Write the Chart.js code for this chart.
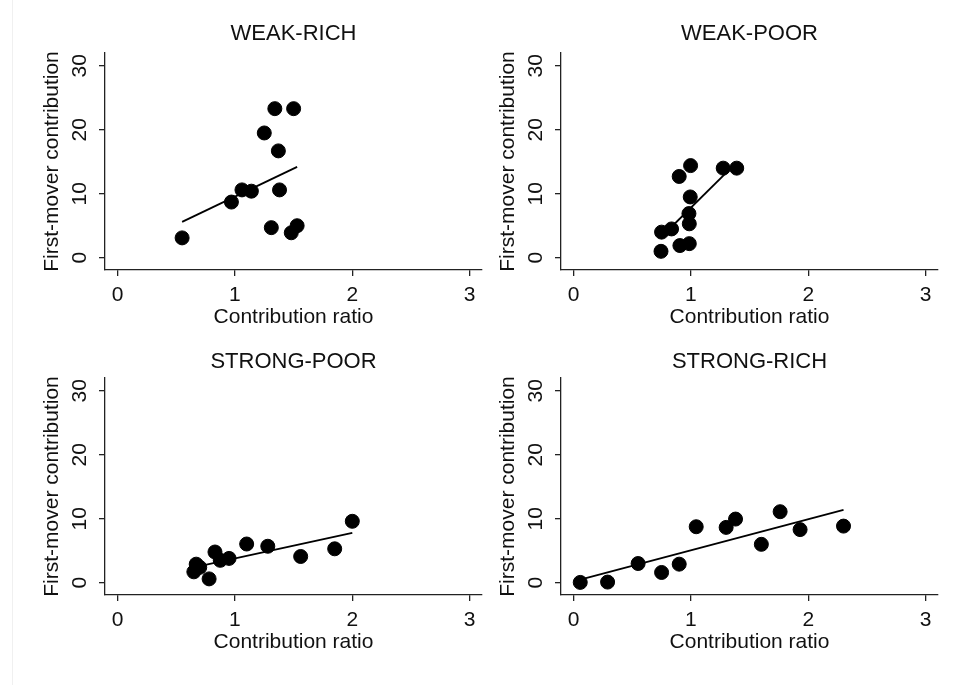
<html>
	<head>
		<title>First-mover contribution by group</title>
		<style>
			body {
				margin: 0;
				padding: 0;
				background: #fff;
				width: 968px;
				height: 685px;
				position: relative;
				overflow: hidden;
			}
			canvas {
				position: absolute;
			}
			#frame {
				position: absolute;
				left: 12px;
				top: 0;
				width: 1px;
				height: 685px;
				background: #f0f0f0;
			}
		</style>
	</head>
	<body>
		<div id="frame"></div>
		<canvas id="c1" width="490" height="340" style="left: 0; top: 0"></canvas>
		<canvas id="c2" width="490" height="340" style="left: 456px; top: 0"></canvas>
		<canvas id="c3" width="490" height="340" style="left: 0; top: 325px"></canvas>
		<canvas id="c4" width="490" height="340" style="left: 456px; top: 325px"></canvas>
		<script src="https://cdn.jsdelivr.net/npm/chart.js@4.4.1/dist/chart.umd.min.js"></script>

		<script>
			// values
			const xTicks = [0, 1, 2, 3];
			const yTicks = [0, 10, 20, 30];
			const xTitle = "Contribution ratio";
			const yTitle = "First-mover contribution";

			const weakRichX = [0.55, 0.97, 1.06, 1.14, 1.25, 1.34, 1.5, 1.37, 1.38, 1.31, 1.48, 1.53];
			const weakRichY = [3.1, 8.7, 10.6, 10.4, 19.5, 23.3, 23.3, 16.7, 10.6, 4.7, 3.9, 5.0];
			const weakRichFitX = [0.55, 1.53];
			const weakRichFitY = [5.6, 14.2];

			const weakPoorX = [0.745, 0.75, 0.835, 0.906, 0.9, 0.986, 0.986, 0.983, 0.994, 0.997, 1.275, 1.39];
			const weakPoorY = [1.0, 4.0, 4.5, 1.9, 12.7, 2.2, 5.3, 6.9, 9.5, 14.4, 14.0, 14.0];
			const weakPoorFitX = [0.745, 1.39];
			const weakPoorFitY = [3.2, 14.9];

			const strongPoorX = [0.65, 0.67, 0.7, 0.78, 0.83, 0.875, 0.95, 1.1, 1.28, 1.56, 1.85, 2.0];
			const strongPoorY = [1.7, 2.9, 2.4, 0.6, 4.8, 3.5, 3.8, 6.05, 5.7, 4.1, 5.3, 9.6];
			const strongPoorFitX = [0.65, 2.0];
			const strongPoorFitY = [2.4, 7.8];

			const strongRichX = [0.057, 0.29, 0.55, 0.75, 0.9, 1.045, 1.3, 1.38, 1.6, 1.76, 1.93, 2.3];
			const strongRichY = [0.05, 0.1, 3.0, 1.6, 2.9, 8.75, 8.65, 9.95, 6.0, 11.1, 8.3, 8.85];
			const strongRichFitX = [0.057, 2.3];
			const strongRichFitY = [0.5, 11.4];

			const family = "'Liberation Sans', Arial, sans-serif";
			const ink = "#111";
			const axisInk = "#222";

			// stata style: y tick labels turned on their side
			const yTickLabels = {
				id: "yTickLabels",
				afterDraw(chart) {
					const s = chart.scales.y;
					const ctx = chart.ctx;
					ctx.save();
					ctx.fillStyle = ink;
					ctx.font = "21px " + family;
					ctx.textAlign = "center";
					ctx.textBaseline = "middle";
					yTicks.forEach(v => {
						ctx.save();
						ctx.translate(s.right - 24.5, s.getPixelForValue(v));
						ctx.rotate(-Math.PI / 2);
						ctx.fillText(String(v), 0, 0);
						ctx.restore();
					});
					ctx.restore();
				},
			};

			// padTop moves the panel title, the box stays 53px tall
			function panel(id, title, xs, ys, fitX, fitY, padTop) {
				return new Chart(document.getElementById(id), {
					type: "scatter",
					data: {
						datasets: [
							{
								data: xs.map((x, i) => ({ x: x, y: ys[i] })),
								backgroundColor: "#000",
								borderColor: "#000",
								pointRadius: 7,
								pointHoverRadius: 7,
							},
							{
								type: "line",
								data: fitX.map((x, i) => ({ x: x, y: fitY[i] })),
								borderColor: "#000",
								borderWidth: 1.8,
								pointRadius: 0,
								fill: false,
							},
						],
					},
					options: {
						responsive: false,
						animation: false,
						devicePixelRatio: 1,
						layout: { padding: { left: 0, right: 7, top: 0, bottom: 0 } },
						plugins: {
							legend: { display: false },
							tooltip: { enabled: false },
							title: {
								display: true,
								text: title,
								fullSize: false,
								color: ink,
								font: { family: family, size: 22, weight: "normal", lineHeight: 1.2 },
								padding: { top: padTop, bottom: 53 - 26.4 - padTop },
							},
						},
						scales: {
							x: {
								type: "linear",
								min: -0.107,
								max: 3.105,
								afterBuildTicks: a => {
									a.ticks = xTicks.map(v => ({ value: v }));
								},
								afterFit: a => {
									a.height = 70;
								},
								border: { display: true, color: axisInk, width: 1.3 },
								grid: { drawOnChartArea: false, drawTicks: true, tickLength: 6, color: axisInk, lineWidth: 1.3 },
								ticks: { color: ink, font: { family: family, size: 21 }, padding: 7, maxRotation: 0, autoSkip: false },
								title: { display: true, text: xTitle, color: ink, font: { family: family, size: 21 }, padding: { top: 0, bottom: 10 } },
							},
							y: {
								type: "linear",
								min: -1.92,
								max: 32,
								afterBuildTicks: a => {
									a.ticks = yTicks.map(v => ({ value: v }));
								},
								afterFit: a => {
									a.width = 105;
								},
								border: { display: true, color: axisInk, width: 1.3 },
								grid: { drawOnChartArea: false, drawTicks: true, tickLength: 6, color: axisInk, lineWidth: 1.3 },
								ticks: { display: false },
								title: { display: true, text: yTitle, color: ink, font: { family: family, size: 21 }, padding: { top: 40, bottom: 0 } },
							},
						},
					},
					plugins: [yTickLabels],
				});
			}

			panel("c1", "WEAK-RICH", weakRichX, weakRichY, weakRichFitX, weakRichFitY, 21);
			panel("c2", "WEAK-POOR", weakPoorX, weakPoorY, weakPoorFitX, weakPoorFitY, 21);
			panel("c3", "STRONG-POOR", strongPoorX, strongPoorY, strongPoorFitX, strongPoorFitY, 24);
			panel("c4", "STRONG-RICH", strongRichX, strongRichY, strongRichFitX, strongRichFitY, 24);
		</script>
	</body>
</html>
